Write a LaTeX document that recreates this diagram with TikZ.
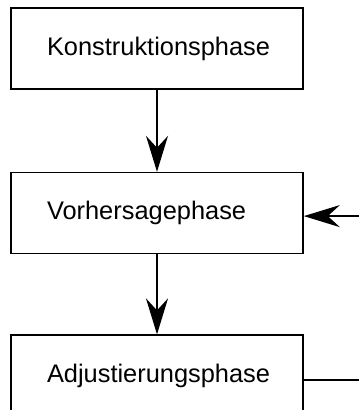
\documentclass[tikz,border=0pt]{standalone}
\usepackage{fontspec}
\setmainfont{Liberation Sans}
\usetikzlibrary{arrows.meta, positioning}

\begin{document}
\begin{tikzpicture}[
node distance = 82pt,
every node/.style = {draw, line width=1.6pt,
                     minimum height=81pt, inner xsep=36pt,
                     text width=220pt, align=left,
                     font=\fontsize{25.4pt}{30pt}\selectfont},
phasearrow/.style = {line width=1.6pt,
                     -{Stealth[length=36pt, width=22pt, inset=12pt]}},
                    ]
%---
\useasboundingbox (0,0) rectangle (359pt,-410pt);

\node (konstr) at (157pt,-48.5pt) {Konstruktionsphase};
\node (vorh) [below=of konstr] {Vorhersagephase};
\node (adjust) [below=80pt of vorh] {Adjustierungsphase};

\coordinate (back_a) at ([xshift=80pt,yshift=-4pt] adjust.east);
\coordinate (back_b) at ([xshift=80pt,yshift=-3pt] vorh.east);

\draw[phasearrow] (konstr) -- (vorh);
\draw[phasearrow] (vorh) -- (adjust);
\draw[phasearrow] ([yshift=-4pt] adjust.east) -- (back_a) -- (back_b)
        -- ([yshift=-3pt] vorh.east);
\end{tikzpicture}
\end{document}
